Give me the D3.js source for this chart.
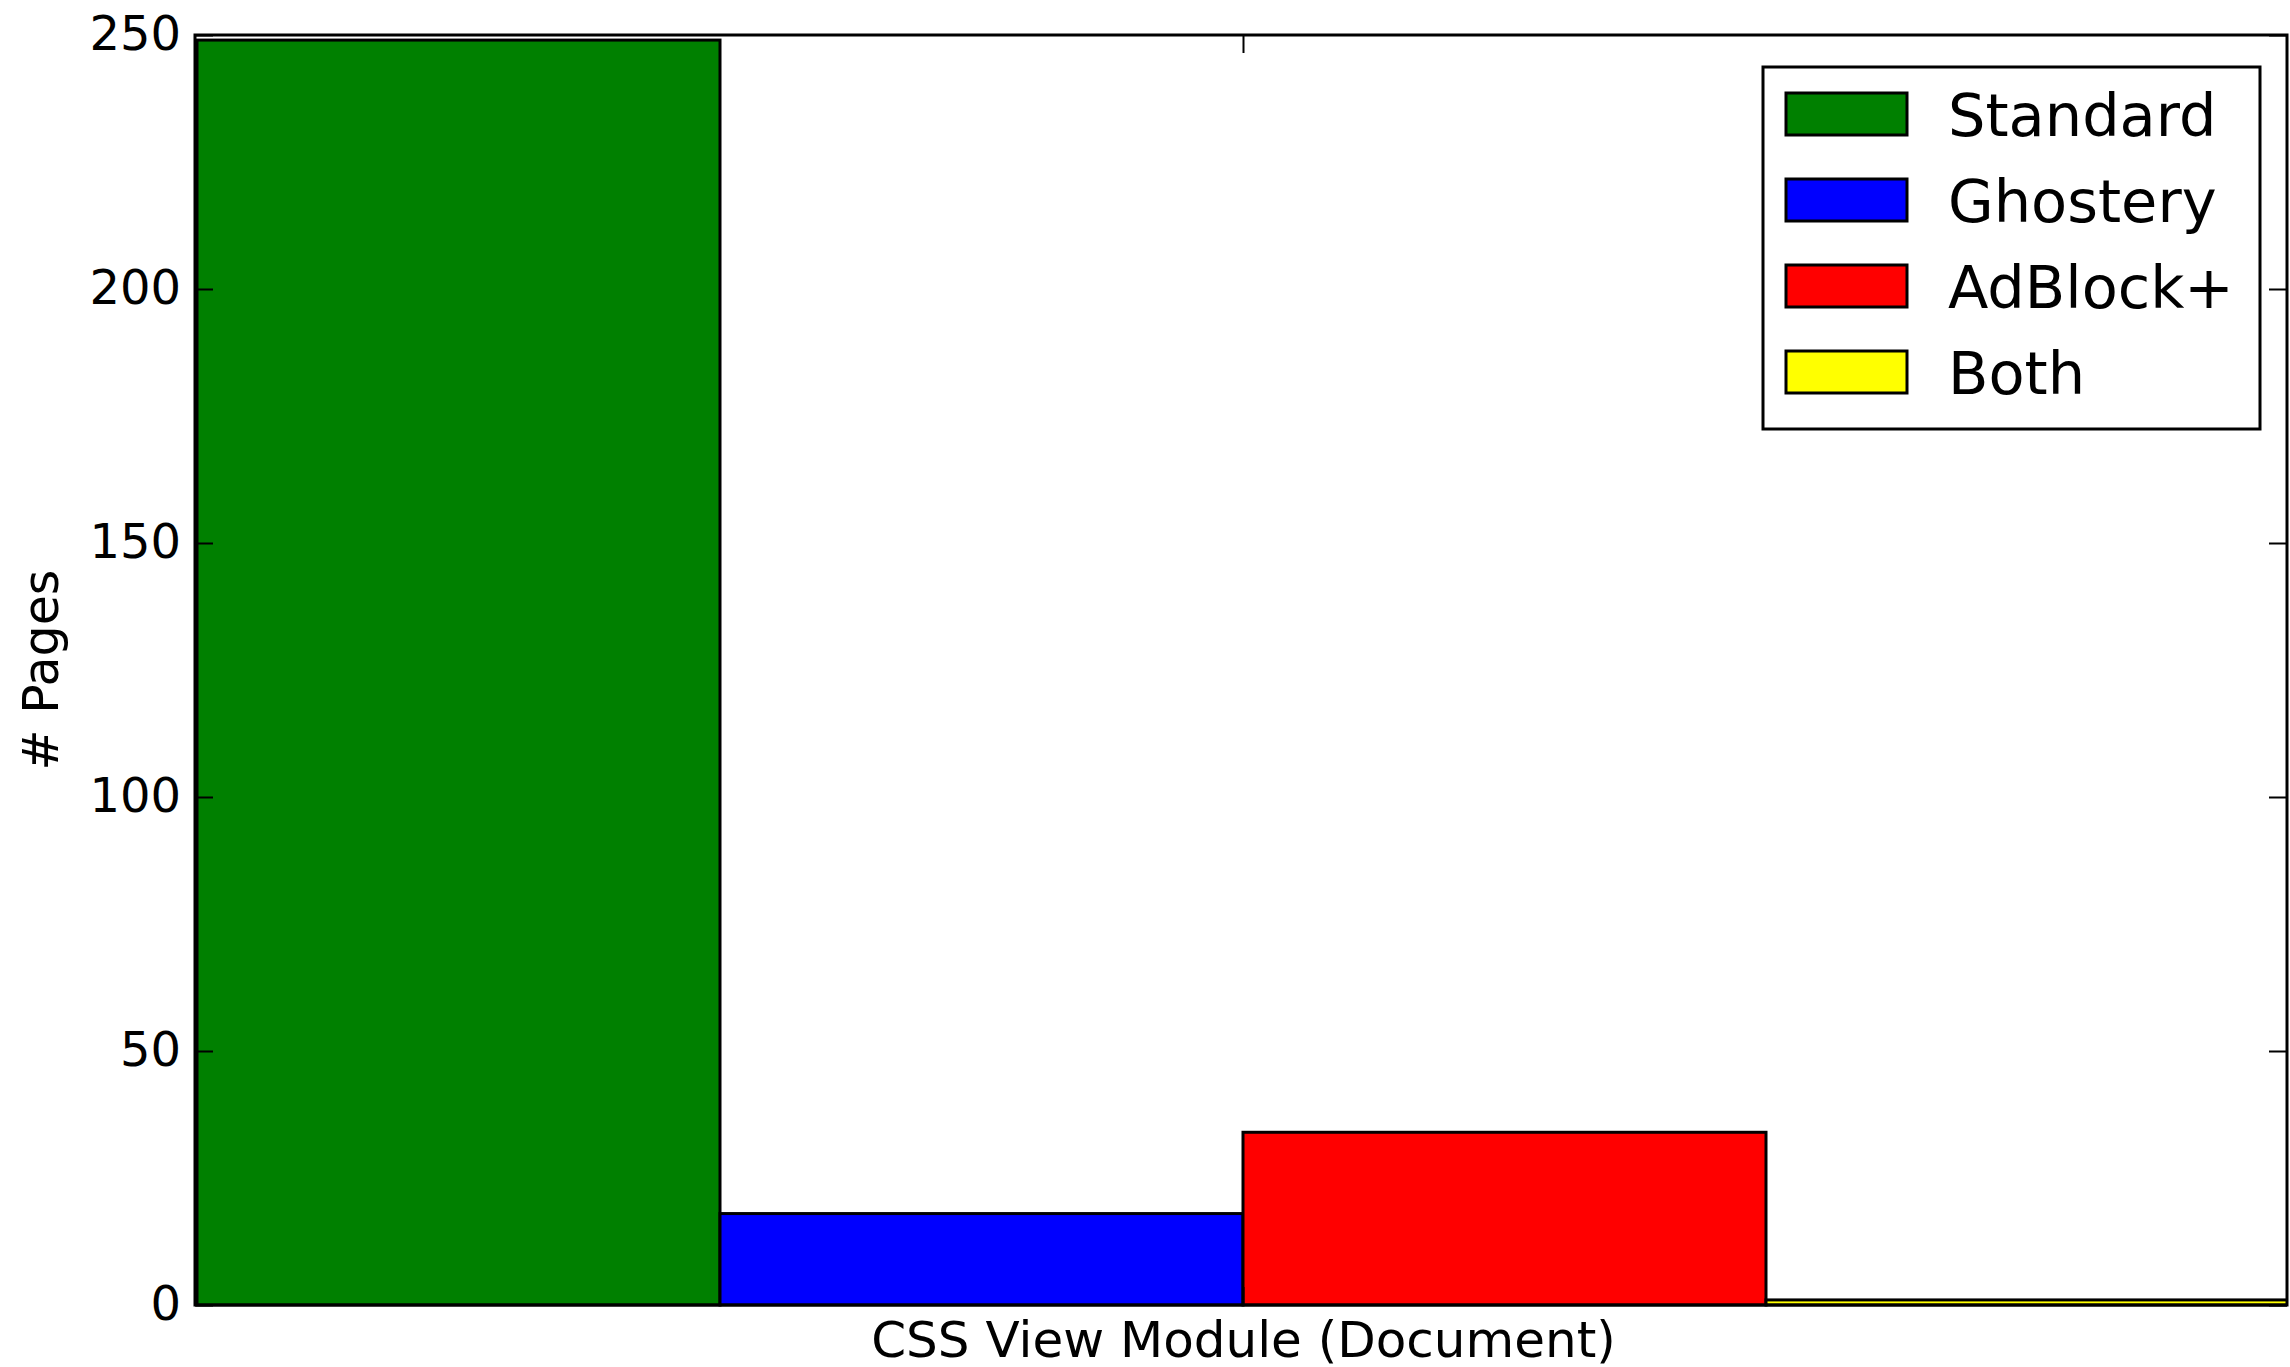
<!DOCTYPE html>
<html>
<head>
<meta charset="utf-8">
<script src="https://cdn.jsdelivr.net/npm/d3@7"></script>
<style>
  html, body { margin: 0; padding: 0; background: #fff; }
  svg { display: block; }
  text { font-family: "DejaVu Sans", sans-serif; fill: #000; }
</style>
</head>
<body>
<svg id="chart" width="2290" height="1367"></svg>
<script>
// ---- data ----
const categories = ["CSS View Module (Document)"];
const seriesNames = ["Standard", "Ghostery", "AdBlock+", "Both"];
const seriesColors = ["#008000", "#0000ff", "#ff0000", "#ffff00"];
const seriesValues = [249, 18, 34, 1];
const yTicks = [0, 50, 100, 150, 200, 250];

// ---- layout ----
const m = { left: 195, right: 2287, top: 35, bottom: 1305 };
const shift = 2; // data range is slightly offset from the frame (as in the original xlim)
const svg = d3.select("#chart");

svg.append("defs").append("clipPath").attr("id", "plotclip")
  .append("rect").attr("x", m.left).attr("y", m.top - 5)
  .attr("width", m.right - m.left).attr("height", m.bottom - m.top + 10);

const x0 = d3.scalePoint().domain(categories).range([m.left + shift, m.right + shift]).padding(0.5);
const xb = d3.scaleBand().domain(seriesNames).range([m.left + shift, m.right + shift]).padding(0);
const y = d3.scaleLinear().domain([0, 250]).range([m.bottom, m.top]);

// bars
svg.append("g").attr("clip-path", "url(#plotclip)").selectAll("rect")
  .data(seriesNames.map((s, i) => ({ s, v: seriesValues[i], c: seriesColors[i] })))
  .join("rect")
  .attr("x", d => xb(d.s))
  .attr("y", d => y(d.v))
  .attr("width", xb.bandwidth())
  .attr("height", d => y(0) - y(d.v))
  .attr("fill", d => d.c)
  .attr("stroke", "#000")
  .attr("stroke-width", 3);

// ticks (inward) via d3 axes
const tickLen = 18;
const axL = svg.append("g").attr("transform", `translate(${m.left},0)`)
  .call(d3.axisLeft(y).tickValues(yTicks).tickSizeInner(-tickLen).tickSizeOuter(0).tickPadding(14));
const axR = svg.append("g").attr("transform", `translate(${m.right},0)`)
  .call(d3.axisRight(y).tickValues(yTicks).tickSizeInner(-tickLen).tickSizeOuter(0).tickFormat(""));
const axT = svg.append("g").attr("transform", `translate(0,${m.top})`)
  .call(d3.axisTop(x0).tickSizeInner(-tickLen).tickSizeOuter(0).tickFormat(""));
const axB = svg.append("g").attr("transform", `translate(0,${m.bottom})`)
  .call(d3.axisBottom(x0).tickSizeInner(-tickLen).tickSizeOuter(0).tickPadding(16));

[axL, axR, axT, axB].forEach(a => {
  a.select(".domain").remove();
  a.selectAll(".tick line").attr("stroke", "#000").attr("stroke-width", 2);
  a.selectAll(".tick text").attr("font-size", 48).attr("font-family", "DejaVu Sans").attr("fill", "#000");
});
axL.selectAll(".tick text").attr("dy", "0.3em");
axB.selectAll(".tick text").attr("font-size", 50).attr("dy", "0.71em");

// frame
svg.append("rect")
  .attr("x", m.left).attr("y", m.top)
  .attr("width", m.right - m.left).attr("height", m.bottom - m.top)
  .attr("fill", "none").attr("stroke", "#000").attr("stroke-width", 3);

// y label
svg.append("text")
  .attr("transform", `translate(58,${(m.top + m.bottom) / 2}) rotate(-90)`)
  .attr("text-anchor", "middle")
  .attr("font-size", 49)
  .text("# Pages");

// legend
const lg = svg.append("g");
lg.append("rect").attr("x", 1763).attr("y", 67).attr("width", 497).attr("height", 362)
  .attr("fill", "#fff").attr("stroke", "#000").attr("stroke-width", 3);
const rows = lg.selectAll("g.row")
  .data(seriesNames.map((s, i) => ({ s, c: seriesColors[i], i })))
  .join("g").attr("class", "row")
  .attr("transform", d => `translate(0,${114 + d.i * 86})`);
rows.append("rect").attr("x", 1786).attr("y", -21).attr("width", 121).attr("height", 42)
  .attr("fill", d => d.c).attr("stroke", "#000").attr("stroke-width", 3);
rows.append("text").attr("x", 1948).attr("y", 0).attr("dy", "0.37em")
  .attr("font-size", 59).text(d => d.s);
</script>
</body>
</html>
